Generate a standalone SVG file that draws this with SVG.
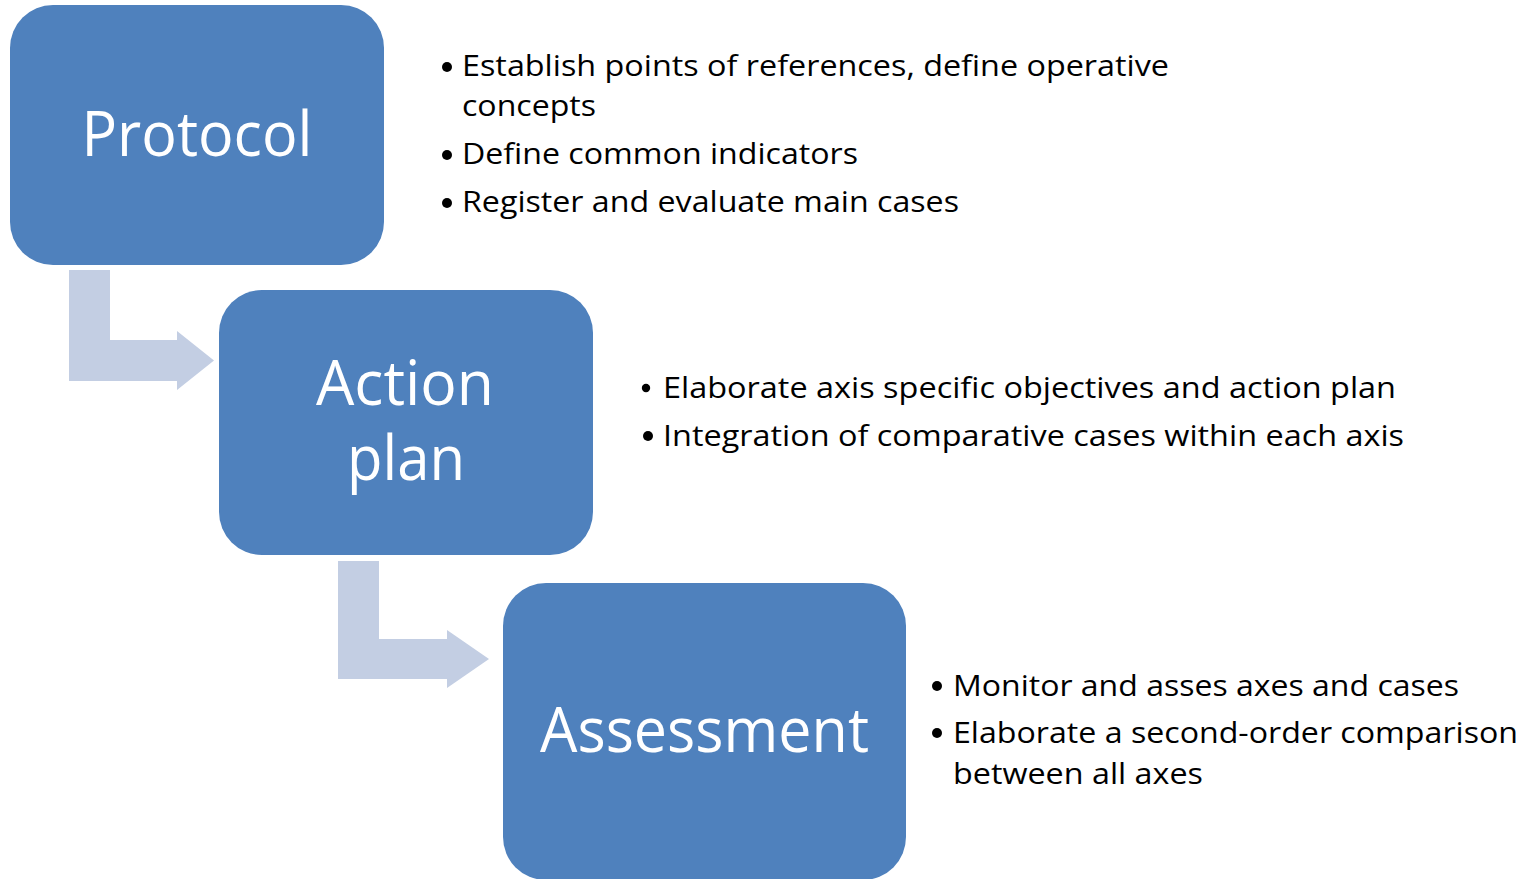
<svg xmlns="http://www.w3.org/2000/svg" width="1527" height="879" viewBox="0 0 1527 879">
<style>
.box{fill:#4F81BD;}
.arrow{fill:#C3CEE3;}
.title{font-family:"Open Sans",Lato,"Liberation Sans",sans-serif;fill:#FFFFFF;text-anchor:middle;font-size:63px;}
.item{font-family:"Open Sans",Lato,"Liberation Sans",sans-serif;fill:#000000;font-size:29.5px;}
.bullet{fill:#000000;}
</style>
<rect width="1527" height="879" fill="#FFFFFF"/>
<g id="connectors">
<polygon class="arrow" points="69,270 110,270 110,340 177,340 177,331 214,360.5 177,390 177,381 69,381"/>
<polygon class="arrow" points="338,561 379,561 379,639 447,639 447,630 489,659 447,688 447,679 338,679"/>
</g>
<g id="protocol">
<rect class="box" x="10" y="5" width="374" height="260" rx="43" ry="43"/>
<text class="title" x="197" y="156" textLength="231" lengthAdjust="spacingAndGlyphs">Protocol</text>
</g>
<g id="action-plan">
<rect class="box" x="219" y="290" width="374" height="265" rx="43" ry="43"/>
<text class="title" x="405" y="405" textLength="178" lengthAdjust="spacingAndGlyphs">Action</text>
<text class="title" x="406" y="480" textLength="118" lengthAdjust="spacingAndGlyphs">plan</text>
</g>
<g id="assessment">
<rect class="box" x="503" y="583" width="403" height="297" rx="43" ry="43"/>
<text class="title" x="704.5" y="752" textLength="329" lengthAdjust="spacingAndGlyphs">Assessment</text>
</g>
<g id="protocol-notes">
<circle class="bullet" cx="447" cy="67" r="5"/>
<text class="item" x="462" y="76" textLength="707" lengthAdjust="spacingAndGlyphs">Establish points of references, define operative</text>
<text class="item" x="462" y="116" textLength="134" lengthAdjust="spacingAndGlyphs">concepts</text>
<circle class="bullet" cx="447" cy="155" r="5"/>
<text class="item" x="462" y="164" textLength="396" lengthAdjust="spacingAndGlyphs">Define common indicators</text>
<circle class="bullet" cx="447" cy="203" r="5"/>
<text class="item" x="462" y="212" textLength="497" lengthAdjust="spacingAndGlyphs">Register and evaluate main cases</text>
</g>
<g id="action-plan-notes">
<circle class="bullet" cx="646" cy="388" r="4.2"/>
<text class="item" x="663" y="398" textLength="733" lengthAdjust="spacingAndGlyphs">Elaborate axis specific objectives and action plan</text>
<circle class="bullet" cx="648" cy="436" r="5"/>
<text class="item" x="663" y="446" textLength="741" lengthAdjust="spacingAndGlyphs">Integration of comparative cases within each axis</text>
</g>
<g id="assessment-notes">
<circle class="bullet" cx="937" cy="686" r="5"/>
<text class="item" x="953" y="696" textLength="506" lengthAdjust="spacingAndGlyphs">Monitor and asses axes and cases</text>
<circle class="bullet" cx="937" cy="733" r="5"/>
<text class="item" x="953" y="743" textLength="565" lengthAdjust="spacingAndGlyphs">Elaborate a second-order comparison</text>
<text class="item" x="953" y="784" textLength="250" lengthAdjust="spacingAndGlyphs">between all axes</text>
</g>
</svg>
